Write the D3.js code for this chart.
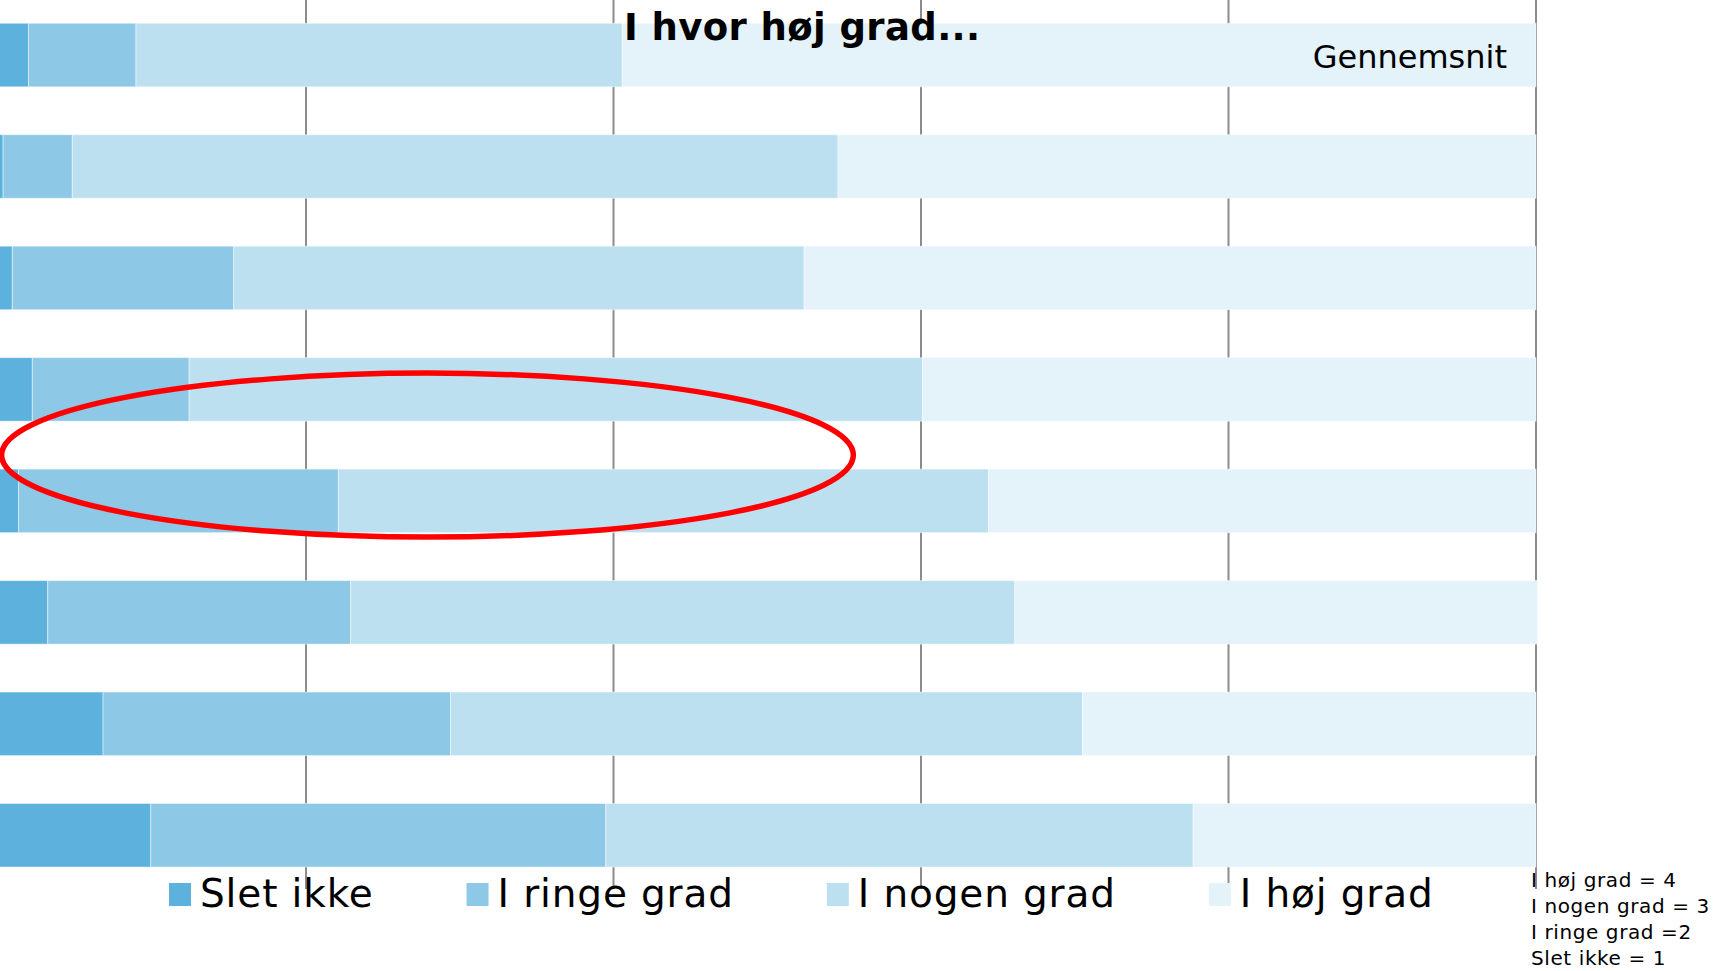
<!DOCTYPE html>
<html>
<head>
<meta charset="utf-8">
<script src="https://cdn.jsdelivr.net/npm/d3@7"></script>
<style>
  body { margin: 0; background: #fff; }
  svg { display: block; font-family: "DejaVu Sans", Verdana, sans-serif; }
</style>
</head>
<body>
<svg id="chart" width="1718" height="971"></svg>
<script>
// questions (labels are cut off in the original picture)
const categories = ["Spørgsmål 1", "Spørgsmål 2", "Spørgsmål 3", "Spørgsmål 4",
                    "Spørgsmål 5", "Spørgsmål 6", "Spørgsmål 7", "Spørgsmål 8"];

// answer shares in percent, per question
const sletIkke     = [1.95, 0.3, 0.9, 2.2, 1.3, 3.2, 6.8, 9.9];
const iRingeGrad   = [6.99, 4.5, 14.4, 10.2, 20.8, 19.7, 22.6, 29.6];
const iNogenGrad   = [31.63, 49.8, 37.1, 47.7, 42.3, 43.2, 41.1, 38.2];
const iHoejGrad    = [59.43, 45.4, 47.6, 39.9, 35.6, 34.0, 29.5, 22.3];

const seriesNames  = ["Slet ikke", "I ringe grad", "I nogen grad", "I høj grad"];
const seriesColors = ["#5cb2dc", "#8dc8e6", "#bde0f0", "#e4f2fa"];
const xTicks       = [20, 40, 60, 80, 100];
const scaleNotes   = ["I høj grad = 4", "I nogen grad = 3", "I ringe grad =2", "Slet ikke = 1"];

const svg = d3.select("#chart");

const x = d3.scaleLinear().domain([0, 100]).range([-1.5, 1536]);
const y = d3.scaleBand().domain(categories).range([-0.7, 891])
  .paddingInner(0.43).paddingOuter(0.215);

// gridlines
svg.append("g")
  .selectAll("line")
  .data(xTicks)
  .join("line")
  .attr("x1", d => x(d)).attr("x2", d => x(d))
  .attr("y1", 0).attr("y2", 889)
  .attr("stroke", "#8c8c8c")
  .attr("stroke-width", 2);

// stack the series
const rows = categories.map((c, i) => ({
  cat: c,
  "Slet ikke": sletIkke[i],
  "I ringe grad": iRingeGrad[i],
  "I nogen grad": iNogenGrad[i],
  "I høj grad": iHoejGrad[i]
}));
const stacked = d3.stack().keys(seriesNames)(rows);

svg.append("g")
  .selectAll("g")
  .data(stacked)
  .join("g")
  .attr("fill", (d, i) => seriesColors[i])
  .selectAll("rect")
  .data(d => d)
  .join("rect")
  .attr("x", d => x(d[0]))
  .attr("y", d => y(d.data.cat))
  .attr("width", d => x(d[1]) - x(d[0]))
  .attr("height", y.bandwidth())
  .attr("stroke", "#ffffff")
  .attr("stroke-opacity", 0.45)
  .attr("stroke-width", 1);

// title + label
svg.append("text")
  .attr("x", 624).attr("y", 39.5)
  .attr("font-size", 37).attr("font-weight", "bold")
  .attr("letter-spacing", 0.4)
  .attr("fill", "#000")
  .text("I hvor høj grad...");

svg.append("text")
  .attr("x", 1507).attr("y", 68)
  .attr("text-anchor", "end")
  .attr("font-size", 32)
  .attr("fill", "#000")
  .text("Gennemsnit");

// red highlight ellipse
svg.append("ellipse")
  .attr("cx", x(27.9))
  .attr("cy", y(categories[4]) - 14)
  .attr("rx", x(27.7) - x(0))
  .attr("ry", 82)
  .attr("fill", "none")
  .attr("stroke", "#ff0000")
  .attr("stroke-width", 5.5);

// legend
const legend = svg.append("g").attr("transform", "translate(169,0)");
let lx = 0;
seriesNames.forEach((name, i) => {
  const item = legend.append("g").attr("transform", `translate(${lx},0)`);
  item.append("rect")
    .attr("x", 0).attr("y", 883)
    .attr("width", 22).attr("height", 23)
    .attr("fill", seriesColors[i]);
  const t = item.append("text")
    .attr("x", 31).attr("y", 906.5)
    .attr("font-size", 39)
    .attr("letter-spacing", 0.85)
    .attr("fill", "#000")
    .text(name);
  lx += 31 + t.node().getComputedTextLength() + 93;
});

// scale notes bottom right
svg.append("g")
  .selectAll("text")
  .data(scaleNotes)
  .join("text")
  .attr("x", 1531)
  .attr("y", (d, i) => 886.5 + i * 26.2)
  .attr("font-size", 20)
  .attr("letter-spacing", 0.6)
  .attr("fill", "#000")
  .text(d => d);
</script>
</body>
</html>
